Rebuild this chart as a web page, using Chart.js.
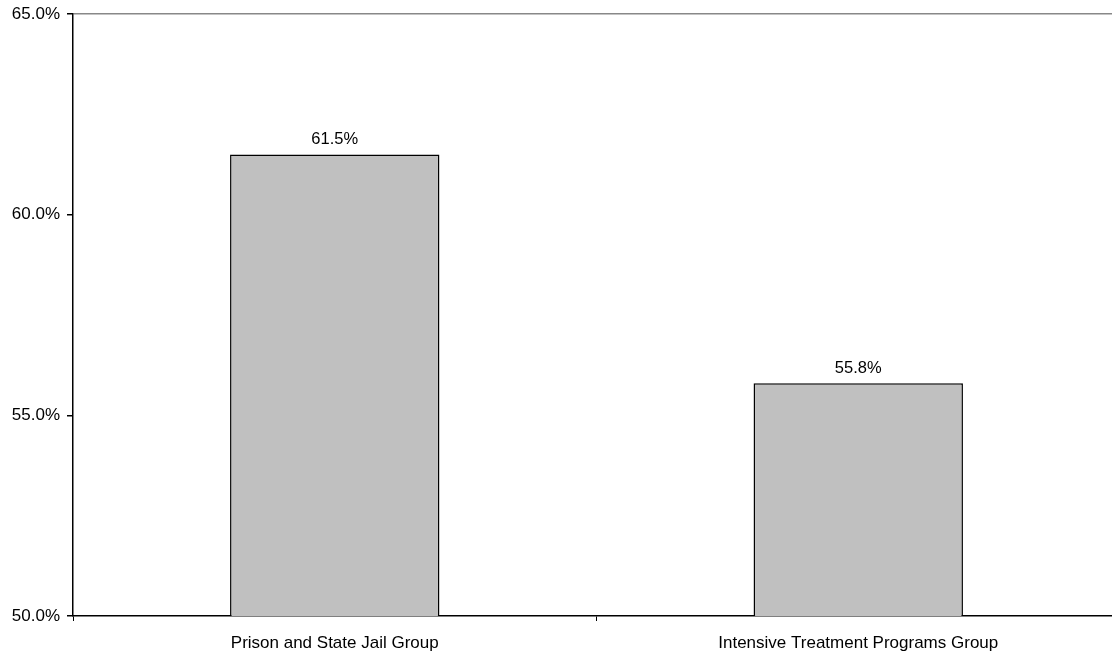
<!DOCTYPE html>
<html>
<head>
<meta charset="utf-8">
<script src="https://cdn.jsdelivr.net/npm/chart.js@4/dist/chart.umd.min.js"></script>
<style>
  html, body { margin: 0; padding: 0; background: #fff; overflow: hidden; }
  #wrap { width: 1120px; height: 654px; position: relative; }
</style>
</head>
<body>
<div id="wrap"><canvas id="c"></canvas></div>
<script>
// Groups and their rates (percent)
const categories = ['Prison and State Jail Group', 'Intensive Treatment Programs Group'];
const rates = [61.5, 55.8];
const yTicks = [50, 55, 60, 65];

const FONT = 'Liberation Sans, Arial, sans-serif';
const FONT_SIZE = 16.5;

// Writes each bar's value above it
const valueLabels = {
  id: 'valueLabels',
  afterDatasetsDraw(chart) {
    const ctx = chart.ctx;
    const meta = chart.getDatasetMeta(0);
    ctx.save();
    ctx.font = FONT_SIZE + 'px ' + FONT;
    ctx.fillStyle = '#000';
    ctx.textAlign = 'center';
    ctx.textBaseline = 'alphabetic';
    meta.data.forEach((bar, i) => {
      ctx.fillText(rates[i].toFixed(1) + '%', bar.x, bar.y - 10);
    });
    ctx.restore();
  }
};

new Chart(document.getElementById('c'), {
  type: 'bar',
  data: {
    labels: categories,
    datasets: [{
      data: rates,
      backgroundColor: '#c0c0c0',
      borderColor: '#000',
      borderWidth: 1.5,
      borderSkipped: 'bottom',
      categoryPercentage: 1,
      barPercentage: 0.4
    }]
  },
  options: {
    responsive: true,
    maintainAspectRatio: false,
    animation: false,
    layout: { padding: { top: 14, left: 0, right: 0, bottom: 0 } },
    plugins: { legend: { display: false }, tooltip: { enabled: false } },
    scales: {
      y: {
        min: yTicks[0],
        max: yTicks[yTicks.length - 1],
        afterBuildTicks(scale) { scale.ticks = yTicks.map(v => ({ value: v })); },
        afterFit(scale) {
          scale.width = 73;
          scale.paddingTop = 0;
          scale.paddingBottom = 0;
        },
        ticks: {
          font: { family: FONT, size: 17 },
          color: '#000',
          padding: 7,
          callback: v => Number(v).toFixed(1) + '%'
        },
        grid: {
          color: ctx => ctx.tick && ctx.tick.value === yTicks[yTicks.length - 1] ? '#888' : 'rgba(0,0,0,0)',
          lineWidth: 1.5,
          tickColor: '#000',
          tickLength: 6,
          drawOnChartArea: true
        },
        border: { color: '#000', width: 1.5 }
      },
      x: {
        afterFit(scale) { scale.height = 38; },
        ticks: {
          font: { family: FONT, size: 17 },
          color: '#000',
          padding: 12,
          maxRotation: 0
        },
        grid: {
          offset: true,
          drawOnChartArea: false,
          tickColor: '#000',
          tickLength: 5
        },
        border: { color: '#000', width: 1.5 }
      }
    }
  },
  plugins: [valueLabels]
});
</script>
</body>
</html>
